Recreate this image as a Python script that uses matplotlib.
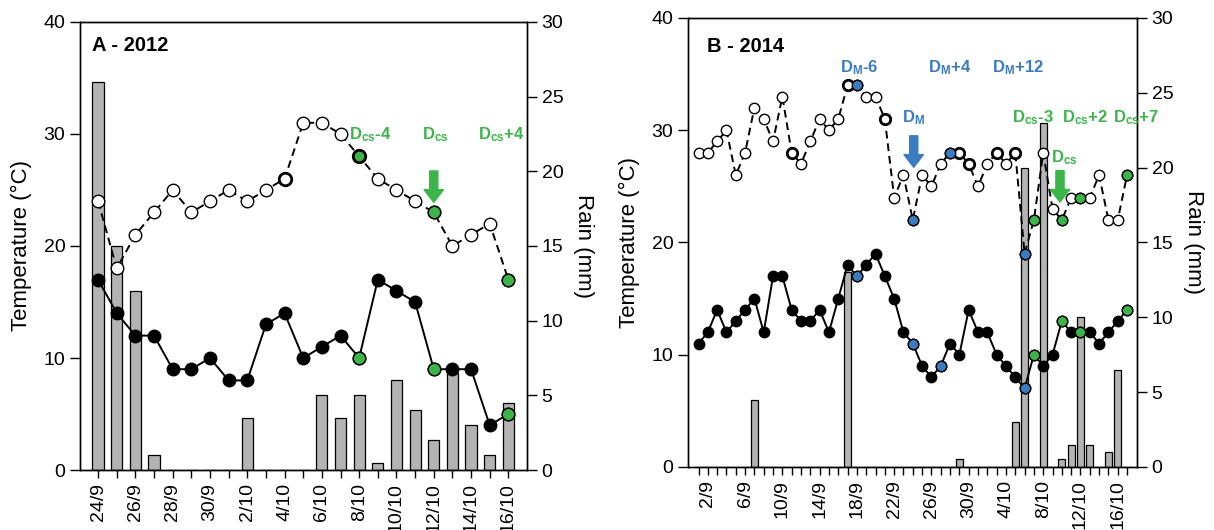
import numpy as np
import matplotlib
matplotlib.use("Agg")
import matplotlib.pyplot as plt

plt.rcParams['font.family'] = ['Liberation Sans', 'DejaVu Sans']
plt.rcParams['mathtext.fontset'] = 'custom'
plt.rcParams['mathtext.rm'] = 'Liberation Sans'
plt.rcParams['mathtext.bf'] = 'Liberation Sans:bold'
plt.rcParams['mathtext.it'] = 'Liberation Sans:italic'

GREEN = "#3bb44a"
BLUE = "#3a7cc2"
GREY = "#b3b3b3"

# ---------------- 2012 : 24/9 -> 16/10 ----------------
a_labels = ["24/9", "26/9", "28/9", "30/9", "2/10", "4/10", "6/10",
            "8/10", "10/10", "12/10", "14/10", "16/10"]
a_tmax = [24, 18, 21, 23, 25, 23, 24, 25, 24, 25, 26, 31, 31, 30, 28, 26,
          25, 24, 23, 20, 21, 22, 17]
a_tmin = [17, 14, 12, 12, 9, 9, 10, 8, 8, 13, 14, 10, 11, 12, 10, 17,
          16, 15, 9, 9, 9, 4, 5]
a_rain = [26, 15, 12, 1, 0, 0, 0, 0, 3.5, 0, 0, 0, 5, 3.5, 5, 0.5,
          6, 4, 2, 6.5, 3, 1, 4.5]
a_green = [14, 18, 22]          # Dcs-4, Dcs, Dcs+4
a_bold = [10]

# ---------------- 2014 : 1/9 -> 17/10 ----------------
b_labels = ["2/9", "6/9", "10/9", "14/9", "18/9", "22/9", "26/9", "30/9",
            "4/10", "8/10", "12/10", "16/10"]
b_tmax = [28, 28, 29, 30, 26, 28, 32, 31, 29, 33,
          28, 27, 29, 31, 30, 31, 34, 34, 33, 33,
          31, 24, 26, 22, 26, 25, 27, 28, 28, 27,
          25, 27, 28, 27, 28, 19, 22, 28, 23, 22,
          24, 24, 24, 26, 22, 22, 26]
b_tmin = [11, 12, 14, 12, 13, 14, 15, 12, 17, 17,
          14, 13, 13, 14, 12, 15, 18, 17, 18, 19,
          17, 15, 12, 11, 9, 8, 9, 11, 10, 14,
          12, 12, 10, 9, 8, 7, 10, 9, 10, 13,
          12, 12, 12, 11, 12, 13, 14]
b_rain = [0, 0, 0, 0, 0, 0, 4.5, 0, 0, 0,
          0, 0, 0, 0, 0, 0, 13, 0, 0, 0,
          0, 0, 0, 0, 0, 0, 0, 0, 0.5, 0,
          0, 0, 0, 0, 3, 20, 0, 23, 0, 0.5,
          1.5, 10, 1.5, 0, 1, 6.5, 0]
b_blue_max = [17, 23, 27, 35]   # DM-6, DM, DM+4, DM+12
b_blue_min = [17, 23, 26, 35]
b_green = [36, 39, 41, 46]      # Dcs-3, Dcs, Dcs+2, Dcs+7
b_bold = [10, 16, 20, 28, 29, 32, 34]


def panel(ax, tmax, tmin, rain, first_lab, step, labels, xlim, barw, ms):
    days = np.arange(len(tmax))
    ax2 = ax.twinx()
    ax.set_zorder(ax2.get_zorder() + 1)
    ax.patch.set_visible(False)

    ax2.bar(days, rain, width=barw, color=GREY, edgecolor="black", linewidth=0.9)
    ax2.set_ylim(0, 30)
    ax2.set_yticks(np.arange(0, 31, 5))
    ax2.set_ylabel("Rain (mm)", fontsize=16, rotation=270, labelpad=22)

    ax.plot(days, tmax, color="black", ls=(0, (4, 2.5)), lw=1.4, zorder=2)
    ax.plot(days, tmax, "o", mfc="white", mec="black", ms=ms, mew=1.0, zorder=3)
    ax.plot(days, tmin, color="black", lw=1.4, zorder=2)
    ax.plot(days, tmin, "o", mfc="black", mec="black", ms=ms, mew=1.0, zorder=3)

    ax.set_ylim(0, 40)
    ax.set_yticks(np.arange(0, 41, 10))
    ax.set_xlim(*xlim)
    ticks = list(days)
    ax.set_xticks(ticks)
    lab = [""] * len(ticks)
    for k, s in enumerate(labels):
        lab[first_lab + k * step] = s
    ax.set_xticklabels(lab, rotation=90, fontsize=14)
    ax.set_ylabel("Temperature (°C)", fontsize=16, labelpad=8)

    for a in (ax, ax2):
        a.tick_params(axis="y", labelsize=14, direction="out", length=7, width=1)
        for sp in a.spines.values():
            sp.set_linewidth(1)
    ax.tick_params(axis="x", direction="out", length=6, width=1)
    return days


def mark(ax, days, vals, idx, fc, ms, mew=1.0):
    ax.plot([days[i] for i in idx], [vals[i] for i in idx], "o", mfc=fc,
            mec="black", ms=ms, mew=mew, zorder=4, ls="none")


def arrow(ax, x, ytip, color):
    ax.annotate("", xy=(x, ytip), xytext=(x, ytip + 2.8),
                arrowprops=dict(arrowstyle="simple,head_width=1.0,head_length=0.65,tail_width=0.42",
                                fc=color, ec=color, mutation_scale=14,
                                shrinkA=0, shrinkB=0), zorder=5)


fig = plt.figure(figsize=(12.14, 5.30), dpi=100)
axA = fig.add_axes([0.0659, 0.1132, 0.3682, 0.8453])
axB = fig.add_axes([0.5667, 0.1189, 0.3699, 0.8472])

# panel A
dA = panel(axA, a_tmax, a_tmin, a_rain, 0, 2, a_labels, (-0.97, 23.0), 0.6, 9)
mark(axA, dA, a_tmax, a_bold, "white", 9, 2.0)
mark(axA, dA, a_tmax, a_green[:1], GREEN, 9, 2.0)
mark(axA, dA, a_tmax, a_green[1:], GREEN, 9)
mark(axA, dA, a_tmin, a_green, GREEN, 9)
axA.text(-0.3, 37.9, "A - 2012", fontsize=14.5, fontweight="bold", va="center")
lkw = dict(fontsize=12, fontweight="bold", color=GREEN, ha="center", va="center")
axA.text(14.6, 29.9, r"D$_{\mathbf{cs}}$-4", **lkw)
axA.text(18.1, 29.9, r"D$_{\mathbf{cs}}$", **lkw)
axA.text(21.6, 29.9, r"D$_{\mathbf{cs}}$+4", **lkw)
arrow(axA, dA[a_green[1]], a_tmax[a_green[1]] + 0.9, GREEN)

# panel B
dB = panel(axB, b_tmax, b_tmin, b_rain, 1, 4, b_labels, (-1.13, 47.07), 0.78, 7.5)
mark(axB, dB, b_tmax, b_bold, "white", 7.5, 2.0)
mark(axB, dB, b_tmax, b_blue_max, BLUE, 7.5)
mark(axB, dB, b_tmin, b_blue_min, BLUE, 7.5)
mark(axB, dB, b_tmax, b_green, GREEN, 7.5)
mark(axB, dB, b_tmin, b_green, GREEN, 7.5)
axB.text(0.9, 37.5, "B - 2014", fontsize=14.5, fontweight="bold", va="center")
bkw = dict(fontsize=12, fontweight="bold", color=BLUE, ha="center", va="center")
axB.text(17.2, 35.6, r"D$_{\mathbf{M}}$-6", **bkw)
axB.text(23.1, 31.1, r"D$_{\mathbf{M}}$", **bkw)
axB.text(26.9, 35.6, r"D$_{\mathbf{M}}$+4", **bkw)
axB.text(34.3, 35.6, r"D$_{\mathbf{M}}$+12", **bkw)
gkw = dict(lkw)
axB.text(35.9, 31.1, r"D$_{\mathbf{cs}}$-3", **gkw)
axB.text(41.5, 31.1, r"D$_{\mathbf{cs}}$+2", **gkw)
axB.text(47.0, 31.1, r"D$_{\mathbf{cs}}$+7", clip_on=False, **gkw)
axB.text(39.3, 27.6, r"D$_{\mathbf{cs}}$", **gkw)
arrow(axB, dB[b_blue_max[1]] + 0.1, b_tmax[b_blue_max[1]] + 4.7, BLUE)
arrow(axB, dB[b_green[1]] - 0.2, b_tmax[b_green[1]] + 1.6, GREEN)

fig.savefig("out.png", dpi=100)
